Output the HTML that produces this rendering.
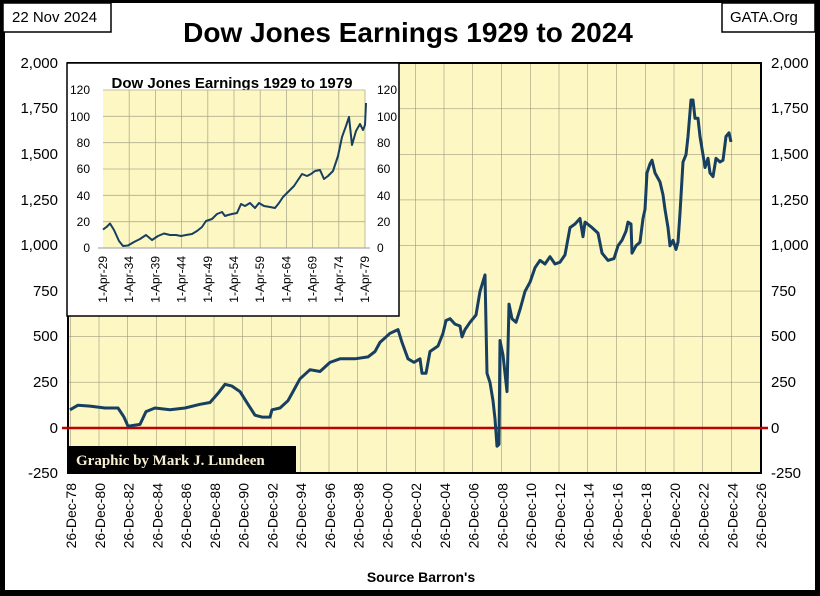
<!DOCTYPE html>
<html><head><meta charset="utf-8"><style>
body{margin:0;background:#000;}
svg{display:block;font-family:"Liberation Sans",sans-serif;}
</style></head><body>
<svg width="820" height="596" viewBox="0 0 820 596" xmlns="http://www.w3.org/2000/svg">
<defs>
<pattern id="g" width="28.75" height="45.56" patternUnits="userSpaceOnUse" x="70" y="63">
<path d="M0 0V45.56M0 0H28.75" stroke="#8a8a70" stroke-width="1" fill="none"/>
</pattern>
</defs>
<rect x="0" y="0" width="820" height="596" fill="#000"/>
<rect x="5" y="3" width="810" height="587" fill="#fff"/>
<rect x="3" y="3" width="108" height="29" fill="#fff" stroke="#000" stroke-width="1.5"/>
<text x="12" y="22" font-size="15">22 Nov 2024</text>
<rect x="722" y="3" width="93" height="29" fill="#fff" stroke="#000" stroke-width="1.5"/>
<text x="730" y="22" font-size="15">GATA.Org</text>
<text x="408" y="42" font-size="28" font-weight="bold" text-anchor="middle">Dow Jones Earnings 1929 to 2024</text>
<rect x="68" y="63" width="693" height="410" fill="#fdf7c3"/>
<rect x="68" y="63" width="693" height="410" fill="url(#g)"/>
<rect x="68" y="63" width="693" height="410" fill="none" stroke="#000" stroke-width="2"/>
<line x1="62" y1="428" x2="768" y2="428" stroke="#c00000" stroke-width="2.5"/>
<g font-size="15" text-anchor="end">
<text x="58" y="68">2,000</text><text x="58" y="113">1,750</text><text x="58" y="159">1,500</text><text x="58" y="205">1,250</text><text x="58" y="250">1,000</text><text x="58" y="296">750</text><text x="58" y="341">500</text><text x="58" y="387">250</text><text x="58" y="433">0</text><text x="58" y="478">-250</text>
</g>
<g font-size="15">
<text x="771" y="68">2,000</text><text x="771" y="113">1,750</text><text x="771" y="159">1,500</text><text x="771" y="205">1,250</text><text x="771" y="250">1,000</text><text x="771" y="296">750</text><text x="771" y="341">500</text><text x="771" y="387">250</text><text x="771" y="433">0</text><text x="771" y="478">-250</text>
</g>
<g font-size="14" text-anchor="end" id="xl">
<text transform="translate(76,483) rotate(-90)">26-Dec-78</text>
<text transform="translate(104.75,483) rotate(-90)">26-Dec-80</text>
<text transform="translate(133.5,483) rotate(-90)">26-Dec-82</text>
<text transform="translate(162.25,483) rotate(-90)">26-Dec-84</text>
<text transform="translate(191,483) rotate(-90)">26-Dec-86</text>
<text transform="translate(219.75,483) rotate(-90)">26-Dec-88</text>
<text transform="translate(248.5,483) rotate(-90)">26-Dec-90</text>
<text transform="translate(277.25,483) rotate(-90)">26-Dec-92</text>
<text transform="translate(306,483) rotate(-90)">26-Dec-94</text>
<text transform="translate(334.75,483) rotate(-90)">26-Dec-96</text>
<text transform="translate(363.5,483) rotate(-90)">26-Dec-98</text>
<text transform="translate(392.25,483) rotate(-90)">26-Dec-00</text>
<text transform="translate(421,483) rotate(-90)">26-Dec-02</text>
<text transform="translate(449.75,483) rotate(-90)">26-Dec-04</text>
<text transform="translate(478.5,483) rotate(-90)">26-Dec-06</text>
<text transform="translate(507.25,483) rotate(-90)">26-Dec-08</text>
<text transform="translate(536,483) rotate(-90)">26-Dec-10</text>
<text transform="translate(564.75,483) rotate(-90)">26-Dec-12</text>
<text transform="translate(593.5,483) rotate(-90)">26-Dec-14</text>
<text transform="translate(622.25,483) rotate(-90)">26-Dec-16</text>
<text transform="translate(651,483) rotate(-90)">26-Dec-18</text>
<text transform="translate(679.75,483) rotate(-90)">26-Dec-20</text>
<text transform="translate(708.5,483) rotate(-90)">26-Dec-22</text>
<text transform="translate(737.25,483) rotate(-90)">26-Dec-24</text>
<text transform="translate(766,483) rotate(-90)">26-Dec-26</text>
</g>
<text x="421" y="582" font-size="14" font-weight="bold" text-anchor="middle">Source Barron's</text>
<polyline fill="none" stroke="#173f5f" stroke-width="3" stroke-linejoin="round" points="70,409.8 78,405.2 90,406.1 105,408 118,408 124,417.1 128,426.2 140,424.4 146,411.6 155,408 170,409.8 185,408 200,404.3 210,402.5 218,393.4 225,384.3 232,386.1 240,391.6 248,404.3 255,415.2 262,417.1 270,417.1 272,409.8 280,408 288,400.7 293,391.6 300,378.8 310,369.7 320,371.5 330,362.4 340,358.8 355,358.8 368,356.9 375,351.5 380,342.4 390,333.3 398,329.6 402,342.4 408,358.8 414,362.4 420,358.8 422,373.3 426,373.3 430,351.5 438,346 443,333.3 446,320.5 450,318.7 455,324.1 460,326 462,336.9 465,329.6 470,322.3 476,315 480,291.4 485,274.9 487,373.3 490,382.5 493,400.7 495,418.9 497,446.2 499,444.4 500,340.5 503,355.1 505,373.3 507,391.6 509,304.1 512,318.7 516,322.3 520,309.6 525,291.4 530,282.2 535,267.7 540,260.4 545,264 550,256.7 555,264 560,262.2 565,254.9 570,227.6 575,224 580,218.5 583,236.7 585,222.1 592,227.6 598,233.1 602,253.1 608,260.4 614,258.6 618,245.8 622,240.3 626,231.2 628,222.1 631,224 632,253.1 636,245.8 640,242.2 643,218.5 645,209.4 647,172.9 650,163.8 652,160.2 655,172.9 660,182 663,194.8 665,209.4 668,227.6 670,245.8 673,240.3 676,249.4 678,242.2 680,213 683,162 686,154.7 688,136.5 691,100 693,100 695,118.3 698,118.3 700,136.5 703,154.7 705,167.5 708,158.3 710,172.9 713,176.6 716,158.3 720,162 723,160.2 726,136.5 729,132.8 731,141.9"/>
<rect x="68" y="446" width="228" height="27" fill="#000"/>
<text x="76" y="465" font-size="15" font-weight="bold" fill="#f5eed0" font-family="'Liberation Serif',serif">Graphic by Mark J. Lundeen</text>
<!-- inset -->
<rect x="67" y="63" width="332" height="253" fill="#fff" stroke="#000" stroke-width="1.5"/>
<text x="232" y="88" font-size="15" font-weight="bold" text-anchor="middle">Dow Jones Earnings 1929 to 1979</text>
<rect x="103" y="90" width="262" height="158" fill="#fdf7c3"/>
<g stroke="#b0ad90" stroke-width="0.8">
<path d="M103 90H365M103 116.3H365M103 142.7H365M103 169H365M103 195.3H365M103 221.7H365"/>
<path d="M129.2 90V248M155.4 90V248M181.6 90V248M207.8 90V248M234 90V248M260.2 90V248M286.4 90V248M312.6 90V248M338.8 90V248M365 90V248"/>
</g>
<line x1="98" y1="248" x2="370" y2="248" stroke="#999" stroke-width="1"/>
<g font-size="12" text-anchor="end">
<text x="90" y="94">120</text><text x="90" y="121">100</text><text x="90" y="147">80</text><text x="90" y="173">60</text><text x="90" y="200">40</text><text x="90" y="226">20</text><text x="90" y="252">0</text>
</g>
<g font-size="12">
<text x="377" y="94">120</text><text x="377" y="121">100</text><text x="377" y="147">80</text><text x="377" y="173">60</text><text x="377" y="200">40</text><text x="377" y="226">20</text><text x="377" y="252">0</text>
</g>
<g font-size="12" text-anchor="end">
<text transform="translate(107,256) rotate(-90)">1-Apr-29</text>
<text transform="translate(133.2,256) rotate(-90)">1-Apr-34</text>
<text transform="translate(159.4,256) rotate(-90)">1-Apr-39</text>
<text transform="translate(185.6,256) rotate(-90)">1-Apr-44</text>
<text transform="translate(211.8,256) rotate(-90)">1-Apr-49</text>
<text transform="translate(238,256) rotate(-90)">1-Apr-54</text>
<text transform="translate(264.2,256) rotate(-90)">1-Apr-59</text>
<text transform="translate(290.4,256) rotate(-90)">1-Apr-64</text>
<text transform="translate(316.6,256) rotate(-90)">1-Apr-69</text>
<text transform="translate(342.8,256) rotate(-90)">1-Apr-74</text>
<text transform="translate(369,256) rotate(-90)">1-Apr-79</text>
</g>
<polyline fill="none" stroke="#173f5f" stroke-width="2" stroke-linejoin="round" points="103,229.6 107,226.6 110,223.5 114,230 119,241 123,246 128,245.5 134,242 140,239 146,235 152,240 158,236 164,233.5 170,235 176,235 181,236 186,235 192,234 197,231 202,227 206,221 212,219 217,214 222,212 225,216 228,215 232,214 237,213 241,204 245,206 250,203 255,208 259,203 264,206 270,207 275,208 279,203 283,197 289,191 294,186 298,180 302,174 307,176 311,174 315,171 320,170 324,179 328,176 333,171 338,156 342,137 346,126 349,117 352,145 356,131 360,124 363,130 365,125 366,103"/>
</svg>
</body></html>
